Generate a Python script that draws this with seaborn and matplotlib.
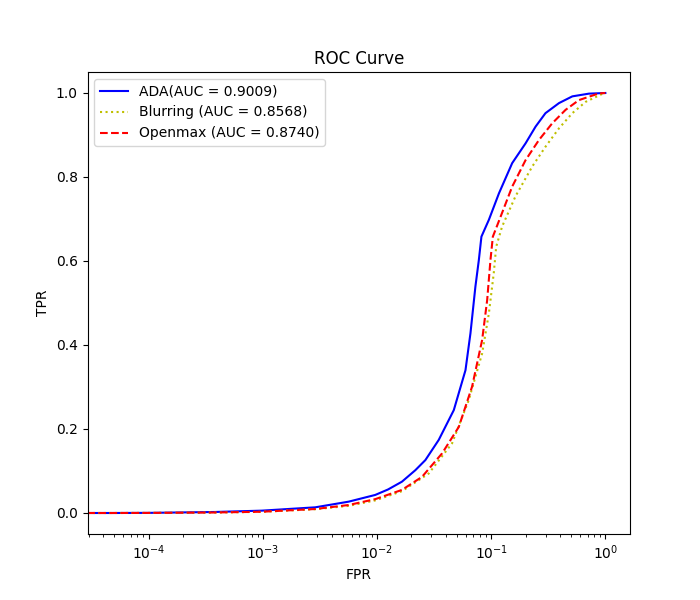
import matplotlib
matplotlib.use("Agg")
import matplotlib.pyplot as plt
import seaborn as sns

ada_fpr = [0.0, 4.8e-5, 1e-4, 3.8e-4, 9.8e-4, 2.88e-3, 5.65e-3, 9.66e-3, 0.0125, 0.01656, 0.0217, 0.02655,
           0.03475, 0.0471, 0.0596, 0.0659, 0.0728, 0.078, 0.0822, 0.0955, 0.117, 0.1528,
           0.2, 0.245, 0.299, 0.393, 0.514, 0.719, 1.0]
ada_tpr = [0.0, 0.0, 0.0003, 0.0024, 0.0056, 0.0135, 0.027, 0.043, 0.056, 0.0746, 0.102, 0.126,
           0.174, 0.245, 0.340, 0.428, 0.539, 0.602, 0.658, 0.698, 0.761, 0.833,
           0.880, 0.920, 0.952, 0.976, 0.992, 0.9985, 1.0]

blur_fpr = [0.0, 4.8e-5, 1e-4, 3.8e-4, 9.8e-4, 2.88e-3, 5.65e-3, 9.66e-3, 0.01656, 0.0284, 0.0455,
            0.0637, 0.0834, 0.0955, 0.1054, 0.1107, 0.1247, 0.1633, 0.229, 0.299, 0.393,
            0.514, 0.673, 0.942, 1.0]
blur_tpr = [0.0, 0.0, 0.0002, 0.001, 0.0028, 0.009, 0.017, 0.030, 0.052, 0.094, 0.166,
            0.269, 0.380, 0.475, 0.571, 0.634, 0.682, 0.754, 0.825, 0.872, 0.916,
            0.952, 0.979, 0.998, 1.0]

open_fpr = [0.0, 4.8e-5, 1e-4, 3.8e-4, 9.8e-4, 2.88e-3, 5.65e-3, 9.66e-3, 0.01656, 0.0248, 0.0372,
            0.0521, 0.0681, 0.0834, 0.0923, 0.0986, 0.1035, 0.1208, 0.1528, 0.2, 0.262,
            0.343, 0.449, 0.586, 0.877, 1.0]
open_tpr = [0.0, 0.0, 0.0002, 0.0012, 0.003, 0.0095, 0.019, 0.033, 0.055, 0.086, 0.142,
            0.205, 0.301, 0.412, 0.507, 0.602, 0.658, 0.705, 0.777, 0.840, 0.888,
            0.928, 0.960, 0.983, 0.999, 1.0]

labels = ["ADA(AUC = 0.9009)", "Blurring (AUC = 0.8568)", "Openmax (AUC = 0.8740)"]

fig, ax = plt.subplots(figsize=(7, 6), dpi=100)
sns.lineplot(x=ada_fpr, y=ada_tpr, sort=False, estimator=None, color="b", linestyle="-", label=labels[0], ax=ax)
sns.lineplot(x=blur_fpr, y=blur_tpr, sort=False, estimator=None, color="y", linestyle=":", label=labels[1], ax=ax)
sns.lineplot(x=open_fpr, y=open_tpr, sort=False, estimator=None, color="r", linestyle="--", label=labels[2], ax=ax)
ax.set_xscale("log")
ax.set_xlabel("FPR")
ax.set_ylabel("TPR")
ax.set_title("ROC Curve")
ax.legend(loc="upper left")
fig.savefig("out.png", dpi=100)
